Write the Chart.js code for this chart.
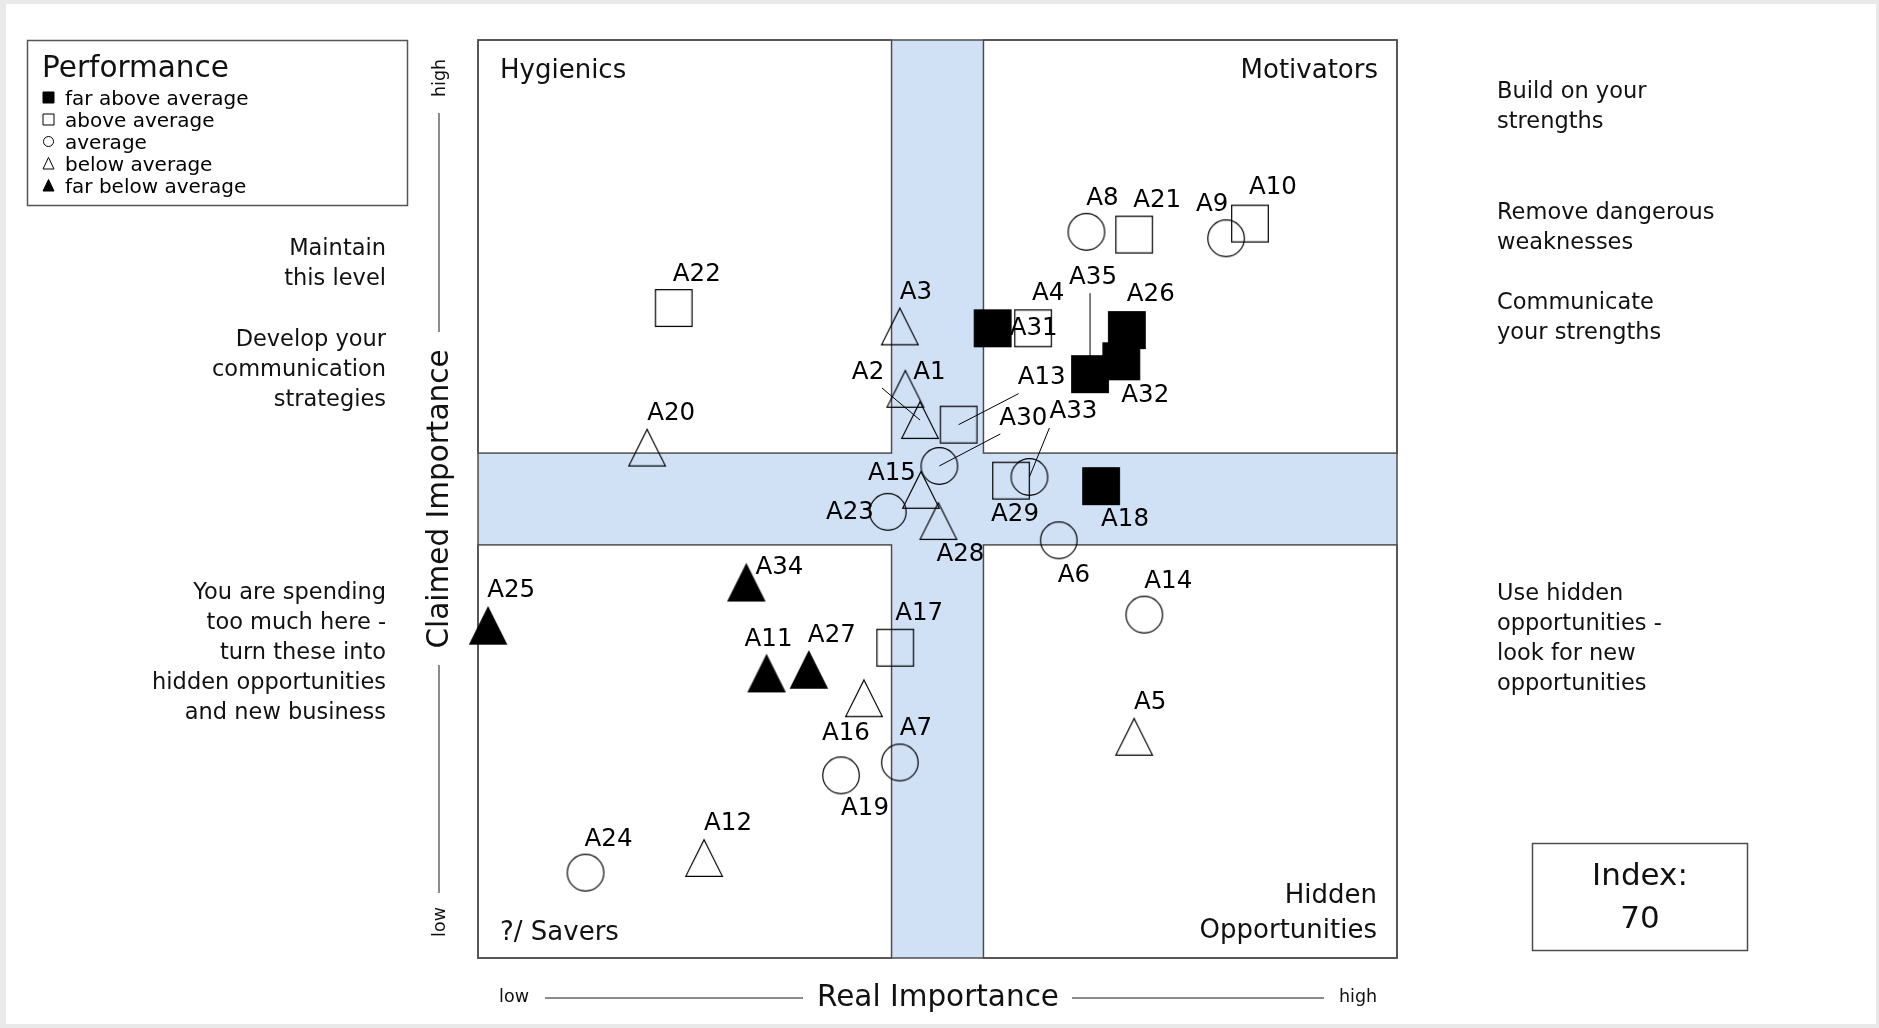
<!DOCTYPE html>
<html>
<head>
<meta charset="utf-8">
<title>Performance portfolio</title>
<script src="https://cdn.jsdelivr.net/npm/chart.js@4.4.0/dist/chart.umd.min.js"></script>
<style>
    html, body { margin: 0; padding: 0; background: #e9e9e9; overflow: hidden; }
    #sheet { position: absolute; left: 6px; top: 4px; width: 1870px; height: 1020px; background: #fff; }
    #wrap { position: absolute; left: 0; top: 0; width: 1879px; height: 1028px; }
</style>
</head>
<body>
<div id="sheet"></div>
<div id="wrap"><canvas id="portfolio"></canvas></div>
<script>
// --- data ---
const itemNames = ['A1','A2','A3','A4','A5','A6','A7','A8','A9','A10','A11','A12','A13','A14','A15','A16','A17','A18',
    'A19','A20','A21','A22','A23','A24','A25','A26','A27','A28','A29','A30','A31','A32','A33','A34','A35'];
const realImportance = [46.5, 48.1, 45.9, 60.4, 71.4, 63.2, 45.9, 66.2, 81.4, 84.0, 31.4, 24.6, 52.3, 72.5, 48.2, 42.0, 45.4, 67.8,
    39.5, 18.4, 71.4, 21.3, 44.6, 11.7, 1.1, 70.6, 36.0, 50.1, 58.0, 50.2, 56.0, 70.0, 60.0, 29.2, 66.6];
const claimedImportance = [62.0, 58.6, 68.8, 68.6, 24.1, 45.5, 21.3, 79.1, 78.4, 80.0, 31.0, 10.9, 58.1, 37.4, 51.0, 28.3, 33.8, 51.4,
    19.9, 55.6, 78.8, 70.8, 48.6, 9.3, 36.2, 68.4, 31.4, 47.6, 52.0, 53.6, 68.6, 65.0, 52.4, 40.9, 63.6];
// 0 far above, 1 above, 2 average, 3 below, 4 far below
const performance = [3, 3, 3, 1, 3, 2, 2, 2, 2, 1, 4, 3, 1, 2, 3, 3, 1, 0,
    2, 3, 1, 1, 2, 2, 4, 0, 4, 3, 1, 2, 0, 0, 2, 4, 0];
const performanceLevels = ['far above average', 'above average', 'average', 'below average', 'far below average'];
const bandLimits = [45, 55];
const indexValue = 70;

// label placement (px from marker centre) and leader line starts
const labelOffsets = [[24,-16],[-52,-47],[16,-34],[15,-35],[16,-34],[15,35],[16,-34],[16,-33],[-14,-34],[23,-36],
    [2,-34],[24,-34],[83,-47],[24,-33],[-29,-16],[-18,35],[24,-34],[24,33],[24,33],[24,-34],
    [23,-34],[23,-33],[-38,1],[23,-33],[23,-35],[24,-35],[23,-34],[22,34],[4,34],[84,-47],
    [41,0],[24,34],[44,-65],[33,-15],[3,-97]];
const leaders = { A2: [-38,-32], A13: [60,-31], A30: [61,-32], A33: [20,-49], A35: [0,-81] };

const FONT = '"DejaVu Sans", Verdana, sans-serif';
const font = (size) => size + 'px ' + FONT;
const frameColor = '#4d4d4d';

// marker images: filled square, square, circle, triangle, filled triangle
function makeMarker(level) {
    const c = document.createElement('canvas');
    c.width = 42; c.height = 42;
    const g = c.getContext('2d');
    const m = 21, h = 18.3;
    g.lineWidth = 1.2;
    g.strokeStyle = '#000';
    g.fillStyle = '#000';
    g.beginPath();
    if (level <= 1) {
        g.rect(m - h, m - h, 2 * h, 2 * h);
    } else if (level === 2) {
        g.arc(m, m, h, 0, Math.PI * 2);
    } else {
        g.moveTo(m, m - h);
        g.lineTo(m + h, m + h);
        g.lineTo(m - h, m + h);
        g.closePath();
    }
    if (level === 0 || level === 4) g.fill();
    g.stroke();
    return c;
}

function legendSymbol(ctx, level, cx, cy) {
    const h = 5.5;
    ctx.beginPath();
    if (level <= 1) ctx.rect(cx - h, cy - h, 2 * h, 2 * h);
    else if (level === 2) ctx.arc(cx, cy, 5, 0, Math.PI * 2);
    else { ctx.moveTo(cx, cy - h - 0.5); ctx.lineTo(cx + h, cy + h); ctx.lineTo(cx - h, cy + h); ctx.closePath(); }
    if (level === 0 || level === 4) ctx.fill();
    ctx.lineWidth = 1;
    ctx.stroke();
}

function textLines(ctx, lines, x, y0, step, align) {
    ctx.textAlign = align;
    lines.forEach((t, i) => ctx.fillText(t, x, y0 + i * step));
}

const datasets = performanceLevels.map((name, level) => {
    const data = [];
    itemNames.forEach((n, i) => {
        if (performance[i] === level) data.push({ x: realImportance[i], y: claimedImportance[i], name: n });
    });
    return { label: name, data: data, pointStyle: makeMarker(level), pointRadius: 18, clip: false, showLine: false };
});

const portfolioPlugin = {
    id: 'portfolio',
    beforeDatasetsDraw(chart) {
        const { ctx, chartArea: a, scales: { x, y } } = chart;
        const x1 = x.getPixelForValue(bandLimits[0]), x2 = x.getPixelForValue(bandLimits[1]);
        const y1 = y.getPixelForValue(bandLimits[1]), y2 = y.getPixelForValue(bandLimits[0]);
        ctx.save();
        ctx.fillStyle = '#d0e1f6';
        ctx.fillRect(a.left, a.top, a.width, a.height);
        ctx.strokeStyle = frameColor;
        ctx.lineWidth = 1.5;
        const boxes = [[a.left, a.top, x1, y1], [x2, a.top, a.right, y1], [a.left, y2, x1, a.bottom], [x2, y2, a.right, a.bottom]];
        boxes.forEach(([l, t, r, b]) => {
            ctx.fillStyle = '#fff';
            ctx.fillRect(l, t, r - l, b - t);
            ctx.strokeRect(l, t, r - l, b - t);
        });
        ctx.strokeRect(a.left, a.top, a.width, a.height);

        // quadrant names
        ctx.fillStyle = '#111';
        ctx.font = font(26);
        ctx.textBaseline = 'alphabetic';
        ctx.textAlign = 'left';
        ctx.fillText('Hygienics', a.left + 22, a.top + 38);
        ctx.fillText('?/ Savers', a.left + 22, a.bottom - 18);
        ctx.textAlign = 'right';
        ctx.fillText('Motivators', a.right - 19, a.top + 38);
        ctx.fillText('Hidden', a.right - 20, a.bottom - 55);
        ctx.fillText('Opportunities', a.right - 20, a.bottom - 20);

        // leader lines sit under the markers
        ctx.strokeStyle = '#000';
        ctx.lineWidth = 1;
        itemNames.forEach((n, i) => {
            if (!leaders[n]) return;
            const px = x.getPixelForValue(realImportance[i]), py = y.getPixelForValue(claimedImportance[i]);
            ctx.beginPath();
            ctx.moveTo(px + leaders[n][0], py + leaders[n][1]);
            ctx.lineTo(px, py);
            ctx.stroke();
        });
        ctx.restore();
    },
    afterDatasetsDraw(chart) {
        const { ctx, scales: { x, y } } = chart;
        ctx.save();
        ctx.fillStyle = '#000';
        ctx.font = font(24.5);
        ctx.textAlign = 'center';
        ctx.textBaseline = 'middle';
        itemNames.forEach((n, i) => {
            const px = x.getPixelForValue(realImportance[i]), py = y.getPixelForValue(claimedImportance[i]);
            ctx.fillText(n, px + labelOffsets[i][0], py + labelOffsets[i][1]);
        });
        ctx.restore();
    },
    afterDraw(chart) {
        const { ctx } = chart;
        ctx.save();
        ctx.fillStyle = '#111';
        ctx.strokeStyle = '#555';
        ctx.textBaseline = 'middle';

        // legend box
        ctx.lineWidth = 1.5;
        ctx.strokeRect(27.5, 40.5, 380, 165);
        ctx.font = font(29.5);
        ctx.textAlign = 'left';
        ctx.textBaseline = 'alphabetic';
        ctx.fillText('Performance', 42, 77);
        ctx.font = font(20);
        ctx.strokeStyle = '#000';
        ctx.fillStyle = '#000';
        performanceLevels.forEach((name, i) => {
            legendSymbol(ctx, i, 48.5, 97.5 + i * 22);
            ctx.fillText(name, 65, 105 + i * 22);
        });

        // advice texts
        ctx.fillStyle = '#111';
        ctx.textBaseline = 'middle';
        ctx.font = font(22.5);
        textLines(ctx, ['Maintain', 'this level'], 386, 249, 30, 'right');
        textLines(ctx, ['Develop your', 'communication', 'strategies'], 386, 340, 30, 'right');
        textLines(ctx, ['You are spending', 'too much here -', 'turn these into', 'hidden opportunities', 'and new business'], 386, 593, 30, 'right');
        textLines(ctx, ['Build on your', 'strengths'], 1497, 92, 30, 'left');
        textLines(ctx, ['Remove dangerous', 'weaknesses'], 1497, 213, 30, 'left');
        textLines(ctx, ['Communicate', 'your strengths'], 1497, 303, 30, 'left');
        textLines(ctx, ['Use hidden', 'opportunities -', 'look for new', 'opportunities'], 1497, 594, 30, 'left');

        // axis captions
        ctx.strokeStyle = '#666';
        ctx.lineWidth = 1.5;
        const axY = 998;
        ctx.beginPath();
        ctx.moveTo(545, axY); ctx.lineTo(803, axY);
        ctx.moveTo(1072, axY); ctx.lineTo(1324, axY);
        const axX = 439;
        ctx.moveTo(axX, 113); ctx.lineTo(axX, 332);
        ctx.moveTo(axX, 665); ctx.lineTo(axX, 893);
        ctx.stroke();

        ctx.textAlign = 'center';
        ctx.font = font(29.5);
        ctx.fillText('Real Importance', 938, axY);
        ctx.font = font(17.5);
        ctx.fillText('low', 514, axY - 1);
        ctx.fillText('high', 1358, axY - 1);

        ctx.translate(axX + 1, 0);
        ctx.rotate(-Math.PI / 2);
        ctx.font = font(29.5);
        ctx.fillText('Claimed Importance', -499, 0);
        ctx.font = font(17.5);
        ctx.fillText('high', -78, 0);
        ctx.fillText('low', -922, 0);
        ctx.setTransform(1, 0, 0, 1, 0, 0);

        // index box
        ctx.strokeStyle = frameColor;
        ctx.strokeRect(1532.5, 843.5, 215, 107);
        ctx.font = font(31);
        ctx.fillStyle = '#111';
        ctx.fillText('Index:', 1640, 877);
        ctx.fillText(String(indexValue), 1640, 920);
        ctx.restore();
    }
};

new Chart(document.getElementById('portfolio').getContext('2d'), {
    type: 'scatter',
    data: { datasets: datasets },
    options: {
        responsive: true,
        maintainAspectRatio: false,
        animation: false,
        events: [],
        layout: { padding: { left: 478, top: 40, right: 482, bottom: 70 } },
        scales: {
            x: { type: 'linear', min: 0, max: 100, display: false },
            y: { type: 'linear', min: 0, max: 100, display: false }
        },
        plugins: { legend: { display: false }, tooltip: { enabled: false } }
    },
    plugins: [portfolioPlugin]
});
</script>
</body>
</html>
